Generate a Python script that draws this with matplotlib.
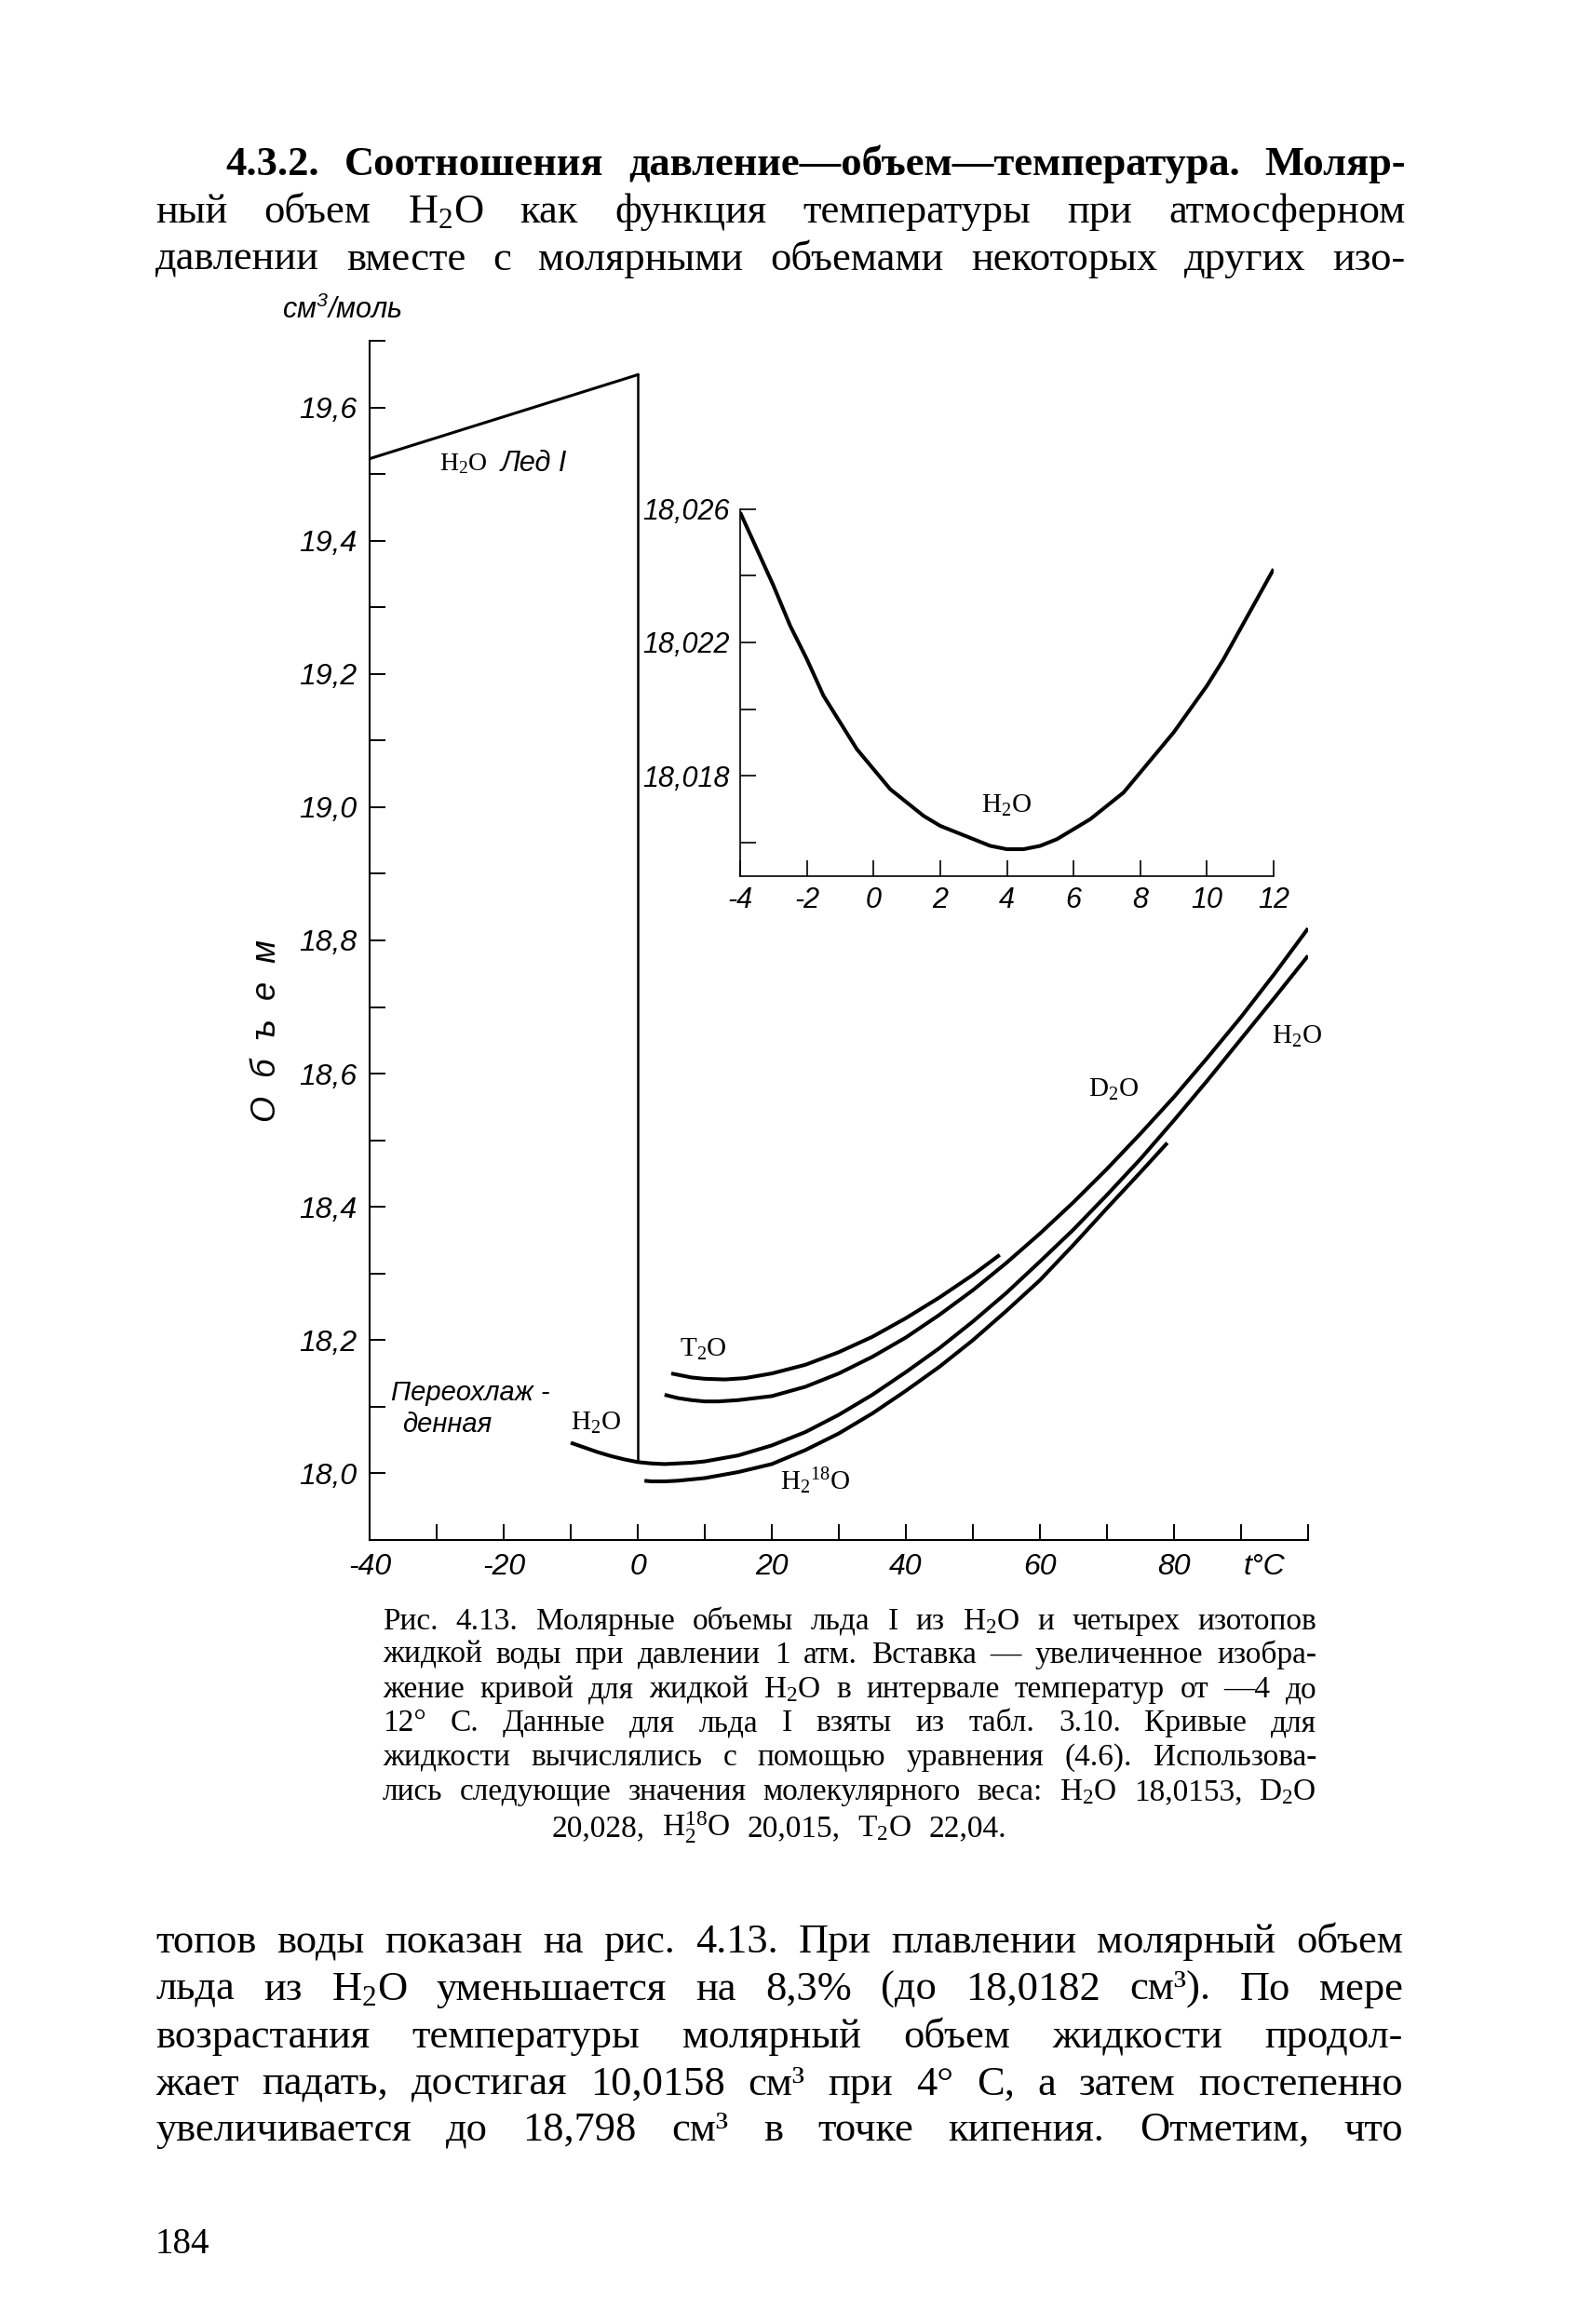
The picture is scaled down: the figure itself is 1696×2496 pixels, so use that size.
import matplotlib
matplotlib.use("Agg")
import matplotlib.pyplot as plt
from matplotlib.ticker import FixedLocator, FixedFormatter

plt.rcParams['font.family'] = ['Liberation Serif', 'DejaVu Serif']
plt.rcParams['mathtext.fontset'] = 'custom'
plt.rcParams['mathtext.rm'] = 'Liberation Serif'
plt.rcParams['mathtext.default'] = 'regular'
plt.rcParams['axes.unicode_minus'] = False

SANS = ['Liberation Sans', 'DejaVu Sans']

# --- data ---
ice_t = [-40, 0]
ice_v = [19.523, 19.649]

h2o_t = [-10, -8, -6, -4, -2, 0, 2, 4, 6, 8, 10, 15, 20, 25, 30, 35, 40, 45, 50,
         55, 60, 65, 70, 75, 80, 85, 90, 95, 100]
h2o_v = [18.046, 18.039, 18.032, 18.026, 18.021, 18.017, 18.015, 18.014, 18.015,
         18.016, 18.018, 18.027, 18.042, 18.062, 18.088, 18.118, 18.152, 18.188,
         18.228, 18.271, 18.318, 18.366, 18.418, 18.472, 18.530, 18.590, 18.652,
         18.714, 18.777]

d2o_t = [4, 6, 8, 10, 12, 15, 20, 25, 30, 35, 40, 45, 50, 55, 60, 65, 70, 75, 80,
         85, 90, 95, 100]
d2o_v = [18.118, 18.113, 18.110, 18.108, 18.108, 18.110, 18.116, 18.130, 18.150,
         18.175, 18.204, 18.238, 18.275, 18.316, 18.360, 18.407, 18.457, 18.510,
         18.565, 18.624, 18.685, 18.750, 18.818]

h2o18_t = [1, 2, 4, 6, 8, 10, 15, 20, 25, 30, 35, 40, 45, 50, 55, 60, 65, 70, 75, 79]
h2o18_v = [17.989, 17.988, 17.988, 17.989, 17.991, 17.993, 18.002, 18.014, 18.035,
           18.060, 18.090, 18.124, 18.160, 18.200, 18.244, 18.290, 18.343, 18.398,
           18.452, 18.496]

t2o_t = [5, 6, 8, 10, 13, 16, 20, 25, 30, 35, 40, 45, 50, 54]
t2o_v = [18.150, 18.148, 18.144, 18.142, 18.141, 18.143, 18.150, 18.163, 18.182,
         18.205, 18.233, 18.264, 18.298, 18.328]

# inset: liquid H2O from -4 to 12 C
ins_t = [-4, -3.5, -3, -2.5, -2, -1.5, -1, -0.5, 0, 0.5, 1, 1.5, 2, 2.5, 3, 3.5, 4,
         4.5, 5, 5.5, 6, 6.5, 7, 7.5, 8, 8.5, 9, 9.5, 10, 10.5, 11, 11.5, 12]
ins_v = [18.0259, 18.0248, 18.0237, 18.0225, 18.0215, 18.0204, 18.0196, 18.0188,
         18.0182, 18.0176, 18.0172, 18.0168, 18.0165, 18.0163, 18.0161, 18.0159,
         18.0158, 18.0158, 18.0159, 18.0161, 18.0164, 18.0167, 18.0171, 18.0175,
         18.0181, 18.0187, 18.0193, 18.0200, 18.0207, 18.0215, 18.0224, 18.0233,
         18.0242]

main_xticks = [-40, -20, 0, 20, 40, 60, 80]
main_xlabels = ['-40', '-20', '0', '20', '40', '60', '80']
main_xminor = [-30, -10, 10, 30, 50, 70, 90, 100]
main_yticks = [18.0, 18.2, 18.4, 18.6, 18.8, 19.0, 19.2, 19.4, 19.6]
main_ylabels = ['18,0', '18,2', '18,4', '18,6', '18,8', '19,0', '19,2', '19,4', '19,6']
main_yminor = [18.1, 18.3, 18.5, 18.7, 18.9, 19.1, 19.3, 19.5, 19.7]

ins_xticks = [-4, -2, 0, 2, 4, 6, 8, 10, 12]
ins_xlabels = ['-4', '-2', '0', '2', '4', '6', '8', '10', '12']
ins_yticks = [18.018, 18.022, 18.026]
ins_ylabels = ['18,018', '18,022', '18,026']
ins_yminor = [18.016, 18.020, 18.024]

top_lines = [
    "4.3.2. Соотношения давление—объем—температура. Моляр-",
    "ный объем H$_2$O как функция температуры при атмосферном",
    "давлении вместе с молярными объемами некоторых других изо-",
]
caption_lines = [
    "Рис. 4.13. Молярные объемы льда I из H$_2$O и четырех изотопов",
    "жидкой воды при давлении 1 атм. Вставка — увеличенное изобра-",
    "жение кривой для жидкой H$_2$O в интервале температур от —4 до",
    "12° С. Данные для льда I взяты из табл. 3.10. Кривые для",
    "жидкости вычислялись с помощью уравнения (4.6). Использова-",
    "лись следующие значения молекулярного веса: H$_2$O 18,0153, D$_2$O",
    "20,028, H$_2^{18}$O 20,015, T$_2$O 22,04.",
]
bottom_lines = [
    "топов воды показан на рис. 4.13. При плавлении молярный объем",
    "льда из H$_2$O уменьшается на 8,3% (до 18,0182 см³). По мере",
    "возрастания температуры молярный объем жидкости продол-",
    "жает падать, достигая 10,0158 см³ при 4° С, а затем постепенно",
    "увеличивается до 18,798 см³ в точке кипения. Отметим, что",
]

W, H = 1696, 2496
fig = plt.figure(figsize=(W / 100, H / 100), dpi=100)
renderer = fig.canvas.get_renderer()


def text_line(line, x0, x1, y, size, justify=True, center=False, nbold=0, gapfrac=0.3):
    words = line.split(' ')
    objs = []
    for i, w in enumerate(words):
        wt = 'bold' if i < nbold else 'normal'
        objs.append(fig.text(0, 1 - y / H, w, fontsize=size, fontweight=wt,
                             va='baseline', ha='left'))
    widths = [t.get_window_extent(renderer).width for t in objs]
    total = sum(widths)
    if justify and len(objs) > 1:
        gap = (x1 - x0 - total) / (len(objs) - 1)
        x = x0
    else:
        gap = size * 100 / 72 * gapfrac
        span = total + gap * (len(objs) - 1)
        x = (x0 + x1) / 2 - span / 2 if center else x0
    for t, w in zip(objs, widths):
        t.set_x(x / W)
        x += w + gap


# --- main axes ---
ax = fig.add_axes([397 / W, 1 - 1654 / H, (1405 - 397) / W, (1654 - 366) / H])
ax.patch.set_alpha(0)
ax.set_xlim(-40, 100)
ax.set_ylim(17.9, 19.7)
for s in ['top', 'right']:
    ax.spines[s].set_visible(False)
for s in ['left', 'bottom']:
    ax.spines[s].set_linewidth(1.5)

ax.xaxis.set_major_locator(FixedLocator(main_xticks))
ax.xaxis.set_major_formatter(FixedFormatter(main_xlabels))
ax.xaxis.set_minor_locator(FixedLocator(main_xminor))
ax.yaxis.set_major_locator(FixedLocator(main_yticks))
ax.yaxis.set_major_formatter(FixedFormatter(main_ylabels))
ax.yaxis.set_minor_locator(FixedLocator(main_yminor))
ax.tick_params(which='both', direction='in', length=12, width=1.4, pad=10)
for lab in ax.get_xticklabels() + ax.get_yticklabels():
    lab.set_family(SANS)
    lab.set_style('italic')
    lab.set_fontsize(23)

lw = 2.9
style = dict(color='black', lw=lw, solid_capstyle='butt', solid_joinstyle='round')
ax.plot(ice_t, ice_v, color='black', lw=2.2)
ax.plot([ice_t[-1], ice_t[-1]], [ice_v[-1], h2o_v[h2o_t.index(0)]], color='black', lw=1.8)
ax.plot(h2o_t, h2o_v, **style)
ax.plot(d2o_t, d2o_v, **style)
ax.plot(h2o18_t, h2o18_v, **style)
ax.plot(t2o_t, t2o_v, **style)

ax.text(-29.6, 19.515, 'H$_2$O', fontsize=20, va='center', ha='left')
ax.text(-20.5, 19.515, 'Лед I', fontsize=22, va='center', ha='left',
        family=SANS, style='italic')
ax.text(-36.8, 18.121, 'Переохлаж -', fontsize=21, va='center', ha='left',
        family=SANS, style='italic')
ax.text(-35.1, 18.073, 'денная', fontsize=21, va='center', ha='left',
        family=SANS, style='italic')
ax.text(-6.2, 18.075, 'H$_2$O', fontsize=21, va='center', ha='center')
ax.text(9.8, 18.186, 'T$_2$O', fontsize=21, va='center', ha='center')
ax.text(26.5, 17.988, 'H$_2$$^{18}$O', fontsize=21, va='center', ha='center')
ax.text(71, 18.576, 'D$_2$O', fontsize=21, va='center', ha='center')
ax.text(98.4, 18.656, 'H$_2$O', fontsize=21, va='center', ha='center')
ax.annotate('t°C', xy=(93.5, 17.9), xytext=(0, -10), textcoords='offset points',
            fontsize=23, family=SANS, style='italic', ha='center', va='top')

fig.text(287 / W, 1 - 1107 / H, 'О  б  ъ  е  м', rotation=90, fontsize=26,
         family=SANS, style='italic', ha='center', va='center')
fig.text(303 / W, 1 - 333 / H, 'см$^3$/моль', fontsize=22, family=SANS,
         style='italic', ha='left', va='center')

# --- inset ---
ins = fig.add_axes([795 / W, 1 - 940.7 / H, (1368 - 795) / W, (940.7 - 546.7) / H])
ins.patch.set_alpha(0)
ins.set_xlim(-4, 12)
ins.set_ylim(18.015, 18.026)
for s in ['top', 'right']:
    ins.spines[s].set_visible(False)
for s in ['left', 'bottom']:
    ins.spines[s].set_linewidth(1.2)
ins.xaxis.set_major_locator(FixedLocator(ins_xticks))
ins.xaxis.set_major_formatter(FixedFormatter(ins_xlabels))
ins.yaxis.set_major_locator(FixedLocator(ins_yticks))
ins.yaxis.set_major_formatter(FixedFormatter(ins_ylabels))
ins.yaxis.set_minor_locator(FixedLocator(ins_yminor))
ins.tick_params(which='both', direction='in', length=12, width=1.2, pad=8)
for lab in ins.get_xticklabels() + ins.get_yticklabels():
    lab.set_family(SANS)
    lab.set_style('italic')
    lab.set_fontsize(22)
ins.plot(ins_t, ins_v, **style)
ins.text(4.0, 18.0171, 'H$_2$O', fontsize=21, va='center', ha='center')

# --- page text ---
top_y = [188, 239, 290]
text_line(top_lines[0], 242, 1510, top_y[0], 32, nbold=4)
text_line(top_lines[1], 167, 1510, top_y[1], 32)
text_line(top_lines[2], 167, 1510, top_y[2], 32)

cap_y = [1750, 1786, 1823, 1859, 1896, 1933, 1972]
for i, line in enumerate(caption_lines[:-1]):
    text_line(line, 411, 1414, cap_y[i], 24)
# last caption line is centred on the page column
text_line(caption_lines[-1], 167, 1507, cap_y[-1], 24, justify=False, center=True,
          gapfrac=0.55)

bot_y = [2097, 2148, 2199, 2250, 2299]
for i, line in enumerate(bottom_lines):
    text_line(line, 167, 1507, bot_y[i], 32)

fig.text(167 / W, 1 - 2420 / H, '184', fontsize=28, ha='left', va='baseline')

fig.savefig('out.png', dpi=100, facecolor='white')
